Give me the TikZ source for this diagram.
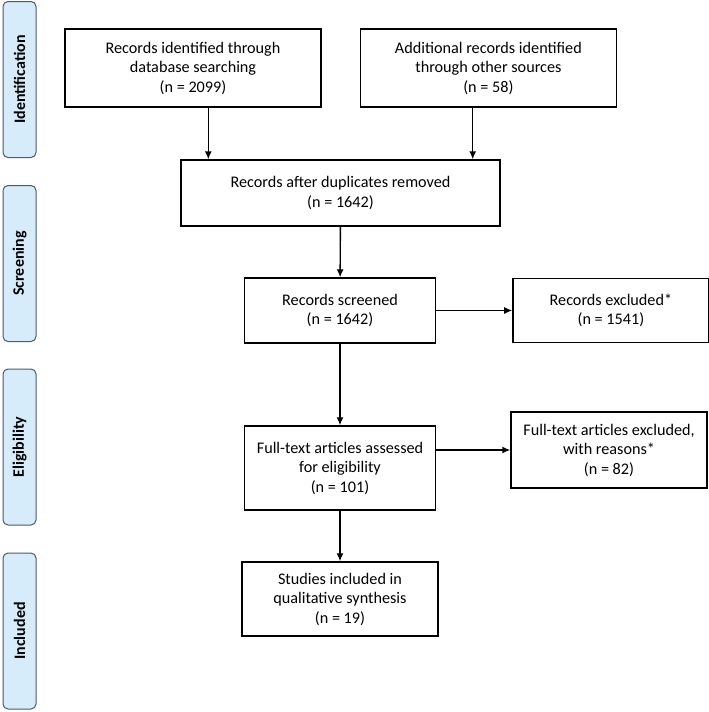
\documentclass[tikz,border=0pt]{standalone}
\usepackage{fontspec}
\setmainfont{Carlito}
\usepackage{tikz}
\usetikzlibrary{arrows.meta,positioning,calc}
\definecolor{phasefill}{HTML}{D6ECFB}
\definecolor{phasedraw}{HTML}{4E5A66}
\tikzset{
  phase/.style={
    draw=phasedraw,
    fill=phasefill,
    line width=1pt,
    rounded corners=5pt,
    minimum width=156pt,
    minimum height=33pt,
    inner sep=0pt,
    font=\fontsize{16}{18}\selectfont\bfseries,
    rotate=90
  },
  flowbox/.style={
    draw=black,
    fill=white,
    rectangle,
    line width=1.4pt,
    align=center,
    inner sep=2pt,
    font=\fontsize{16.2}{19.5}\selectfont
  },
  flowedge/.style={
    draw=black,
    line width=1.4pt,
    -{Latex[length=8pt,width=7pt]}
  }
}
\begin{document}
\begin{tikzpicture}
    \useasboundingbox (0pt,0pt) rectangle (709pt,-712pt);

    % phases on the left
    \node [phase] (ident) at (19.5pt,-79.5pt) {Identification};
    \node [phase] (screen) at (19.5pt,-263.5pt) {Screening};
    \node [phase] (elig) at (19.5pt,-447pt) {Eligibility};
    \node [phase] (incl) at (19.5pt,-631pt) {Included};

    \node [flowbox, minimum width=256pt, minimum height=78pt] (dbrec) at (193pt,-68pt)
      {Records identified through\\database searching\\(n = 2099)};

    \node [flowbox, minimum width=256pt, minimum height=78pt, right=38pt of dbrec] (otherrec)
      {Additional records identified\\through other sources\\(n = 58)};

    \node [flowbox, minimum width=319pt, minimum height=66pt] (dupl) at (340.5pt,-193pt)
      {Records after duplicates removed\\(n = 1642)};

    \node [flowbox, minimum width=191pt, minimum height=65pt] (screened) at (340pt,-310.5pt)
      {Records screened\\(n = 1642)};

    \node [flowbox, minimum width=196pt, minimum height=64pt, right=76pt of screened] (exclrec)
      {Records excluded*\\(n = 1541)};

    \node [flowbox, minimum width=191pt, minimum height=84pt] (fulltext) at (340pt,-468pt)
      {Full-text articles assessed\\for eligibility\\(n = 101)};

    \node [flowbox, minimum width=196pt, minimum height=76pt] (exclfull) at (609pt,-450pt)
      {Full-text articles excluded,\\with reasons*\\(n = 82)};

    \node [flowbox, minimum width=196pt, minimum height=74pt] (studies) at (340pt,-599pt)
      {Studies included in\\qualitative synthesis\\(n = 19)};

    \coordinate (dbdrop) at ($(dupl.north west)+(28pt,0)$);
    \coordinate (otherdrop) at ($(dupl.north east)+(-28pt,0)$);

    \draw [flowedge] (dbdrop |- dbrec.south) -- (dbdrop);
    \draw [flowedge] (otherdrop |- otherrec.south) -- (otherdrop);
    \draw [flowedge] (dupl) -- (screened);
    \draw [flowedge] (screened) -- (exclrec);
    \draw [flowedge] (screened) -- (fulltext);
    \draw [flowedge] (fulltext.east |- exclfull.west) -- (exclfull.west);
    \draw [flowedge] (fulltext) -- (studies);
\end{tikzpicture}
\end{document}
